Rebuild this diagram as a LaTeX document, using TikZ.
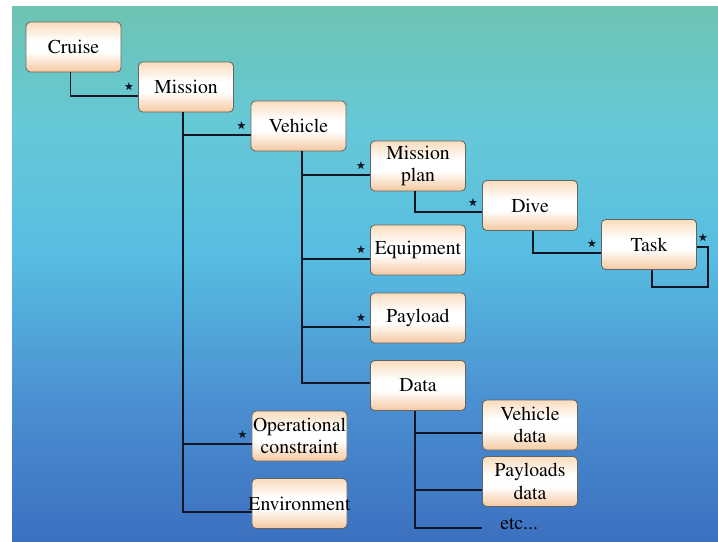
\documentclass[tikz,border=0pt]{standalone}
\usepackage[T1]{fontenc}
\usepackage{mathptmx}
\usepackage{amssymb}
\usepackage{tikz}
\usetikzlibrary{calc, positioning}

\definecolor{bgtop}{RGB}{109,196,178}
\definecolor{bgupper}{RGB}{102,200,214}
\definecolor{bgmid}{RGB}{88,190,226}
\definecolor{bglower}{RGB}{74,142,208}
\definecolor{bgbot}{RGB}{60,112,192}
\definecolor{boxtop}{RGB}{249,220,188}
\definecolor{boxbot}{RGB}{245,200,160}
\definecolor{boxline}{RGB}{100,100,100}
\definecolor{linkcol}{RGB}{20,22,35}

\pgfdeclareverticalshading{bgshade}{100bp}{color(0bp)=(bgbot); color(25bp)=(bgbot); color(37.5bp)=(bglower); color(52bp)=(bgmid); color(64bp)=(bgupper); color(75bp)=(bgtop); color(100bp)=(bgtop)}
\pgfdeclareverticalshading{clsshade}{100bp}{color(0bp)=(boxbot); color(25bp)=(boxbot); color(45bp)=(white); color(56bp)=(white); color(75bp)=(boxtop); color(100bp)=(boxtop)}

\begin{document}
\begin{tikzpicture}[x=0.025cm, y=-0.025cm, font=\fontsize{14}{16}\selectfont,
  cls/.style={draw=boxline, line width=0.6pt, rounded corners=3pt, shading=clsshade, minimum width=2.375cm, minimum height=1.25cm, inner sep=0pt, align=center},
  link/.style={draw=linkcol, line width=1.3pt},
  mult/.style={anchor=south east, inner sep=1pt, font=\fontsize{7}{7}\selectfont, text=linkcol, xshift=-1.5pt, yshift=1.5pt}]
  \useasboundingbox (0,0) rectangle (718,541);
  \shade[shading=bgshade] (12,6) rectangle (718,541);

  \node[cls] (cruise) at (73.5,47) {Cruise};
  \node[cls] (mission) at (186,87) {Mission};
  \node[cls] (vehicle) at (298.5,126) {Vehicle};
  \node[cls] (plan) at (418,166) {Mission\\plan};
  \node[cls] (dive) at (530,205.5) {Dive};
  \node[cls] (task) at (649,244.5) {Task};
  \node[cls] (equip) at (418,250) {Equipment};
  \node[cls] (payload) at (418,318) {Payload};
  \node[cls] (data) at (418,385.5) {Data};
  \node[cls] (vdata) at (530,425) {Vehicle\\data};
  \node[cls] (pdata) at (530,481.5) {Payloads\\data};
  \node[cls] (opcon) at (299.5,436) {Operational\\constraint};
  \node[cls] (env) at (299.5,503.5) {\makebox[0pt]{Environment}};
  \node[anchor=west, inner sep=0pt] (etc) at (500,524) {etc...};

  \draw[link] ($(cruise.south)+(-3,0)$) |- ($(mission.west)+(0,9)$) node[mult] {$\bigstar$};
  \draw[link] ($(mission.south)+(-3,0)$) |- ($(vehicle.west)+(0,9)$) node[mult] {$\bigstar$};
  \draw[link] ($(mission.south)+(-3,0)$) |- ($(opcon.west)+(0,8)$) node[mult] {$\bigstar$};
  \draw[link] ($(mission.south)+(-3,0)$) |- ($(env.west)+(0,8.5)$);
  \draw[link] ($(vehicle.south)+(3.5,0)$) |- ($(plan.west)+(0,9)$) node[mult] {$\bigstar$};
  \draw[link] ($(vehicle.south)+(3.5,0)$) |- ($(equip.west)+(0,9)$) node[mult] {$\bigstar$};
  \draw[link] ($(vehicle.south)+(3.5,0)$) |- ($(payload.west)+(0,9)$) node[mult] {$\bigstar$};
  \draw[link] ($(vehicle.south)+(3.5,0)$) |- ($(data.west)+(0,-2.5)$);
  \draw[link] ($(plan.south)+(-3,0)$) |- ($(dive.west)+(0,6.5)$) node[mult] {$\bigstar$};
  \draw[link] ($(dive.south)+(3,0)$) |- ($(task.west)+(0,8.5)$) node[mult] {$\bigstar$};
  \draw[link] ($(task.east)+(0,2.5)$) -- ++(11,0) node[mult, anchor=south, xshift=-2pt] {$\bigstar$} |- ($(task.south)+(3,17)$) -- ($(task.south)+(3,0)$);
  \draw[link] ($(data.south)+(-3,0)$) |- ($(vdata.west)+(0,8)$);
  \draw[link, line width=1.9pt] ($(data.south)+(-3,0)$) |- ($(pdata.west)+(0,8.5)$);
  \draw[link] ($(data.south)+(-3,0)$) |- ($(etc.west)+(-18,4)$);
\end{tikzpicture}
\end{document}
